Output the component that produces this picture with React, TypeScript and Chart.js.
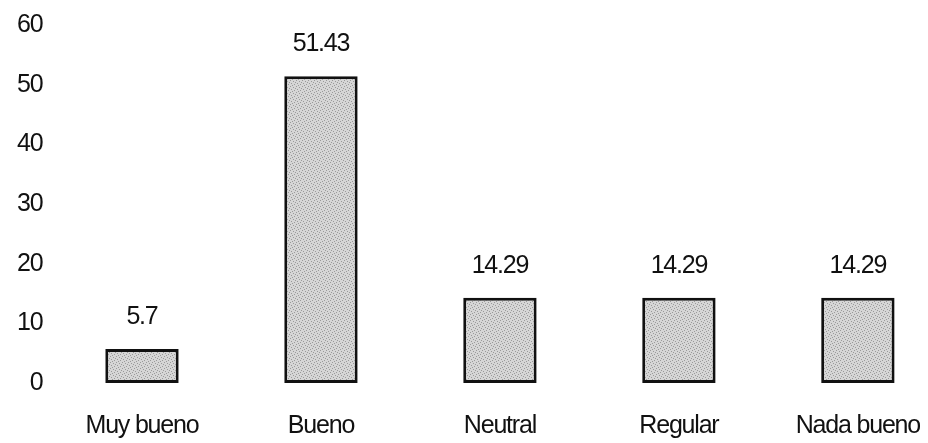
import React, { useEffect, useRef } from "react";
import { Chart, registerables } from "chart.js";

Chart.register(...registerables);

const categories = ["Muy bueno", "Bueno", "Neutral", "Regular", "Nada bueno"];
const values = [5.7, 51.43, 14.29, 14.29, 14.29];
const valueLabels = ["5.7", "51.43", "14.29", "14.29", "14.29"];
const yTicks = [0, 10, 20, 30, 40, 50, 60];

const FONT = "'Liberation Sans', Arial, sans-serif";
const FONT_SIZE = 25;

// Tight letter spacing, like the condensed print face of the original report
const tightTextPlugin = {
  id: "tightText",
  beforeLayout(chart: any) {
    chart.ctx.letterSpacing = "-1.2px";
  },
  beforeDraw(chart: any) {
    chart.ctx.letterSpacing = "-1.2px";
  },
};

const valueLabelPlugin = {
  id: "valueLabels",
  afterDatasetsDraw(chart: any) {
    const ctx = chart.ctx;
    const meta = chart.getDatasetMeta(0);
    ctx.save();
    ctx.font = `${FONT_SIZE}px ${FONT}`;
    ctx.fillStyle = "#111";
    ctx.textAlign = "center";
    ctx.textBaseline = "alphabetic";
    meta.data.forEach((bar: any, i: number) => {
      ctx.fillText(valueLabels[i], bar.x, bar.y - 25);
    });
    ctx.restore();
  },
};

// Halftone-style grey fill for the bars
function makeStipple(): CanvasPattern | string {
  const c = document.createElement("canvas");
  c.width = 6;
  c.height = 6;
  const g = c.getContext("2d");
  if (!g) return "#c4c4c4";
  g.fillStyle = "#d6d6d6";
  g.fillRect(0, 0, 6, 6);
  g.fillStyle = "#9a9a9a";
  const dots = [
    [0, 0], [3, 1], [1, 3], [4, 4], [2, 5], [5, 2],
  ];
  dots.forEach(([x, y]) => g.fillRect(x, y, 1, 1));
  const p = g.createPattern(c, "repeat");
  return p || "#c4c4c4";
}

export default function App() {
  const ref = useRef<HTMLCanvasElement | null>(null);

  useEffect(() => {
    if (!ref.current) return;
    const fill = makeStipple();
    const chart = new Chart(ref.current, {
      type: "bar",
      data: {
        labels: categories,
        datasets: [
          {
            data: values,
            backgroundColor: fill as any,
            borderColor: "#111",
            borderWidth: 3,
            borderSkipped: false,
            barPercentage: 0.41,
            categoryPercentage: 1,
          },
        ],
      },
      options: {
        responsive: false,
        animation: false,
        layout: { padding: { top: 17, left: 0, right: 0, bottom: 0 } },
        plugins: { legend: { display: false }, tooltip: { enabled: false } },
        scales: {
          x: {
            grid: { display: false, drawTicks: false },
            border: { display: false },
            ticks: {
              color: "#111",
              font: { family: FONT, size: FONT_SIZE },
              padding: 28,
              maxRotation: 0,
            },
            afterFit(scale: any) {
              scale.height = 60;
            },
          },
          y: {
            min: 0,
            max: 60,
            afterBuildTicks(scale: any) {
              scale.ticks = yTicks.map((v) => ({ value: v }));
            },
            grid: { display: false, drawTicks: false },
            border: { display: false },
            ticks: {
              color: "#111",
              font: { family: FONT, size: FONT_SIZE },
              padding: 10,
            },
            afterFit(scale: any) {
              scale.width = 44.5;
              scale.paddingTop = 0;
              scale.paddingBottom = 0;
            },
          },
        },
      },
      plugins: [tightTextPlugin, valueLabelPlugin],
    });
    return () => chart.destroy();
  }, []);

  return (
    <div style={{ width: 912, height: 435, overflow: "hidden" }}>
      <canvas ref={ref} width={940} height={435} style={{ display: "block" }} />
    </div>
  );
}
